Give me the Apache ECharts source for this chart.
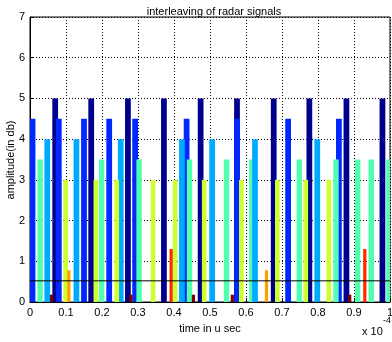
<!DOCTYPE html>
<html>
<head>
<meta charset="utf-8">
<script src="https://cdn.jsdelivr.net/npm/echarts@6/dist/echarts.min.js"></script>
<style>
  html, body { margin: 0; padding: 0; background: #fff; }
  #chart { width: 392px; height: 342px; }
</style>
</head>
<body>
<div id="chart"></div>
<script>
// pulse positions (x 1e-4 s) and amplitudes, one array per radar signal
var sig1T = [0.070, 0.170, 0.272, 0.372, 0.474, 0.575, 0.677, 0.776, 0.879, 0.979];
var sig1A = [5, 5, 5, 5, 5, 5, 5, 5, 5, 5];
var sig2T = [0.007, 0.080, 0.150, 0.220, 0.292, 0.435, 0.575, 0.717, 0.858];
var sig2A = [4.5, 4.5, 4.5, 4.5, 4.5, 4.5, 4.5, 4.5, 4.5];
var sig3T = [0.028, 0.199, 0.303, 0.443, 0.546, 0.616, 0.748, 0.850, 0.910, 0.948, 0.997];
var sig3A = [3.5, 3.5, 3.5, 3.5, 3.5, 3.5, 3.5, 3.5, 3.5, 3.5, 3.5];
var sig4T = [0.048, 0.129, 0.252, 0.422, 0.506, 0.625, 0.798];
var sig4A = [4, 4, 4, 4, 4, 4, 4];
var sig5T = [0.099, 0.183, 0.241, 0.342, 0.403, 0.484, 0.587, 0.687, 0.766, 0.830];
var sig5A = [3, 3, 3, 3, 3, 3, 3, 3, 3, 3];
var sig6T = [0.392, 0.930];
var sig6A = [1.3, 1.3];
var sig7T = [0.108, 0.657];
var sig7A = [0.78, 0.78];
var sig8T = [0.060, 0.280, 0.454, 0.562, 0.888];
var sig8A = [0.18, 0.18, 0.18, 0.18, 0.18];

var threshold = 0.52;
var xTickLabels = ['0', '0.1', '0.2', '0.3', '0.4', '0.5', '0.6', '0.7', '0.8', '0.9', '1'];
var yTickLabels = ['0', '1', '2', '3', '4', '5', '6', '7'];

var font = 'Liberation Sans';

function pulses(t, a, color, w) {
  var data = [];
  for (var i = 0; i < t.length; i++) data.push([t[i], a[i]]);
  return {
    type: 'custom',
    data: data,
    clip: true,
    renderItem: function (params, api) {
      var top = api.coord([api.value(0), api.value(1)]);
      var base = api.coord([api.value(0), 0]);
      var bw = api.size([w, 0])[0];
      return {
        type: 'rect',
        shape: { x: top[0] - bw / 2, y: top[1], width: bw, height: base[1] - top[1] },
        style: { fill: color }
      };
    }
  };
}

var chart = echarts.init(document.getElementById('chart'));
chart.setOption({
  animation: false,
  backgroundColor: '#fff',
  title: {
    text: 'interleaving of radar signals',
    left: 209, top: 1, textAlign: 'center',
    textStyle: { fontFamily: font, fontSize: 11, fontWeight: 'normal', color: '#000' }
  },
  grid: {
    left: 30, right: 2, top: 17, bottom: 40,
    show: true, borderColor: '#000', borderWidth: 1,
    containLabel: false, outerBoundsMode: 'none'
  },
  xAxis: {
    type: 'value', min: 0, max: 1, interval: 0.1,
    name: 'time in u sec', nameLocation: 'middle', nameGap: 21,
    nameTextStyle: { fontFamily: font, fontSize: 11, color: '#000' },
    axisLine: { lineStyle: { color: '#000' } },
    axisTick: { inside: true, length: 4, lineStyle: { color: '#000' } },
    axisLabel: {
      fontFamily: font, fontSize: 11, color: '#000', margin: 5,
      formatter: function (v) { return xTickLabels[Math.round(v * 10)]; }
    },
    splitLine: { show: true, lineStyle: { color: '#000', type: [1, 2], width: 1 } }
  },
  yAxis: {
    type: 'value', min: 0, max: 7, interval: 1,
    axisLine: { show: true, lineStyle: { color: '#000' } },
    axisTick: { show: true, inside: true, length: 4, lineStyle: { color: '#000' } },
    axisLabel: {
      fontFamily: font, fontSize: 11, color: '#000', margin: 5,
      formatter: function (v) { return yTickLabels[Math.round(v)]; }
    },
    splitLine: { show: true, lineStyle: { color: '#000', type: [1, 2], width: 1 } }
  },
  graphic: [
    {
      type: 'text', x: 11, y: 160, rotation: Math.PI / 2,
      style: { text: 'amplitude(in db)', font: '11px ' + font, fill: '#000', align: 'center', verticalAlign: 'middle' }
    },
    { type: 'text', left: 362, top: 326, style: { text: 'x 10', font: '11px ' + font, fill: '#000' } },
    { type: 'text', left: 383, top: 316, style: { text: '-4', font: '9px ' + font, fill: '#000' } }
  ],
  series: [
    pulses(sig1T, sig1A, '#00008f', 0.016),
    pulses(sig2T, sig2A, '#0028ff', 0.016),
    pulses(sig3T, sig3A, '#50ffb0', 0.015),
    pulses(sig4T, sig4A, '#00aaff', 0.016),
    pulses(sig5T, sig5A, '#cfff30', 0.013),
    pulses(sig6T, sig6A, '#ff2a00', 0.009),
    pulses(sig7T, sig7A, '#ffa000', 0.009),
    pulses(sig8T, sig8A, '#800000', 0.009),
    {
      type: 'line', symbol: 'none', silent: true,
      data: [[0, threshold], [1, threshold]],
      lineStyle: { color: '#000', width: 1 }
    }
  ]
});
</script>
</body>
</html>
